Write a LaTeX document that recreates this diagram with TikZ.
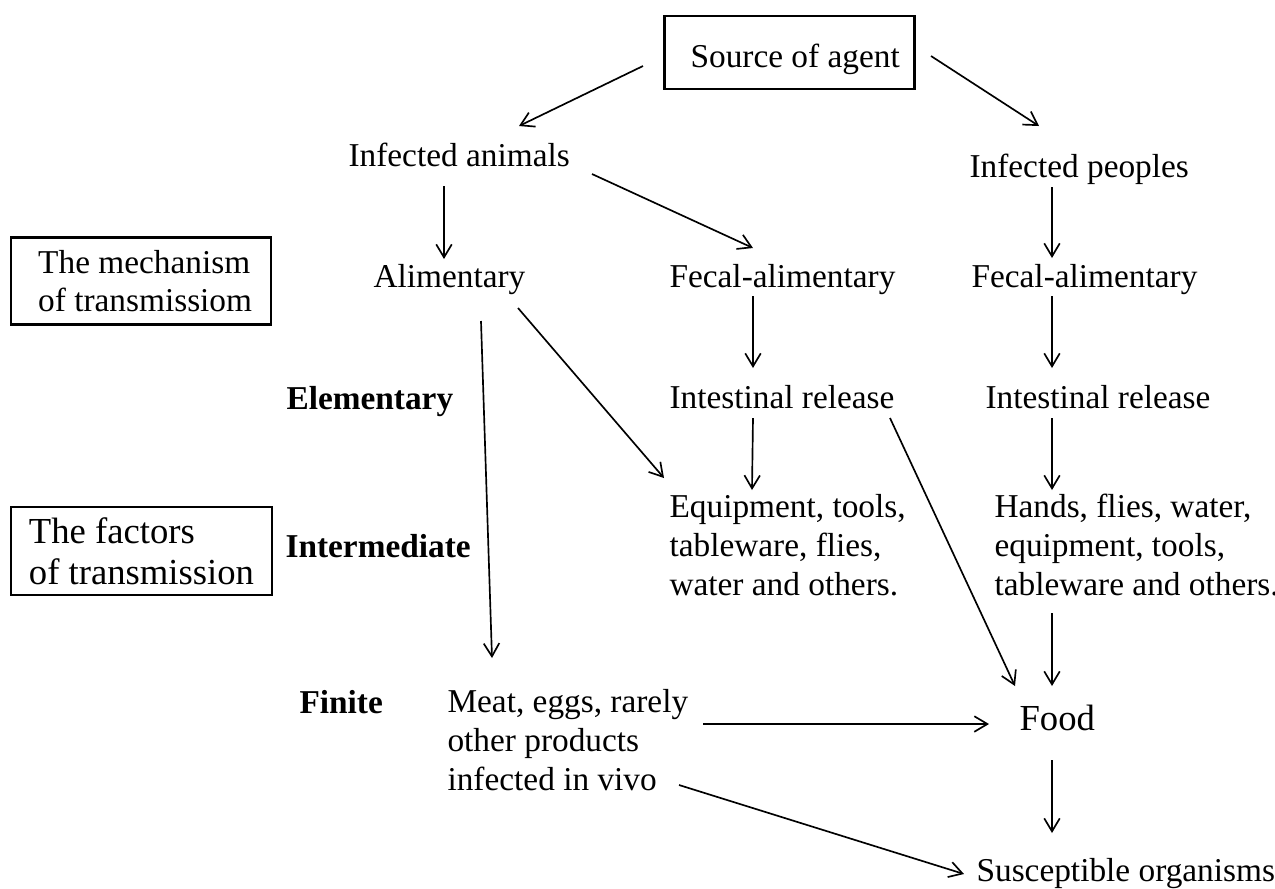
\documentclass[tikz,border=0pt]{standalone}
\usepackage{fontspec}
\setmainfont{Liberation Serif}
\usetikzlibrary{arrows.meta}
\pgfdeclarelayer{edgelayer}
\pgfdeclarelayer{nodelayer}
\pgfsetlayers{edgelayer,nodelayer,main}
\tikzset{font=\fontsize{12}{13.9}\selectfont}
\tikzstyle{txt}=[inner sep=0pt, anchor=base west]
\tikzstyle{multi}=[txt, align=left]
\tikzstyle{stage}=[txt, font=\fontsize{12}{13.9}\selectfont\bfseries]
\tikzstyle{box}=[draw, line width=1pt, align=left]
\tikzstyle{big}=[font=\fontsize{13.2}{14.8}\selectfont]
\tikzstyle{arr}=[-{Straight Barb[length=4.7pt,width=5.6pt]}, line width=0.6pt]

\begin{document}
\begin{tikzpicture}[x=0.36pt, y=-0.36pt]
	\useasboundingbox (0, 0) rectangle (1275, 888);
	\begin{pgfonlayer}{nodelayer}
		\node [style=box, anchor=base east, minimum width=90pt, inner xsep=0pt, inner ysep=0pt, text height=18.4pt, text depth=7.9pt] (0) at (916, 67) {\hspace*{4pt}Source of agent};
		\node [style=txt] (1) at (348, 166) {Infected animals};
		\node [style=txt] (2) at (969, 177) {Infected peoples};
		\node [style=box, inner ysep=0pt, minimum width=93.6pt, minimum height=31.3pt] (3) at (141, 281) {\hspace*{3pt}The mechanism\\\hspace*{3pt}of transmissiom};
		\node [style=txt] (4) at (373, 287) {Alimentary};
		\node [style=txt] (5) at (669, 287) {Fecal-alimentary};
		\node [style=txt] (6) at (971, 287) {Fecal-alimentary};
		\node [style=stage] (7) at (286, 409) {Elementary};
		\node [style=txt] (8) at (669, 408) {Intestinal release};
		\node [style=txt] (9) at (985, 408) {Intestinal release};
		\node [style=box, style=big, inner ysep=0pt, minimum width=94pt, minimum height=31.7pt] (10) at (141.5, 551) {The factors\\of transmission};
		\node [style=stage] (11) at (285, 557) {Intermediate};
		\node [style=multi] (12) at (669, 595) {Equipment, tools,\\tableware, flies,\\water and others.};
		\node [style=multi] (13) at (994, 595) {Hands, flies, water,\\equipment, tools,\\tableware and others.};
		\node [style=stage] (14) at (299, 713) {Finite};
		\node [style=multi] (15) at (447, 790) {Meat, eggs, rarely\\other products\\infected in vivo};
		\node [style=txt, style=big] (16) at (1019, 730) {Food};
		\node [style=txt] (17) at (976, 881) {Susceptible organisms};
	\end{pgfonlayer}
	\begin{pgfonlayer}{edgelayer}
		\draw [style=arr] ([shift={(-273,-1)}]0.base east) to ([shift={(171,-40)}]1.base west);
		\draw [style=arr] ([shift={(15,-11)}]0.base east) to ([shift={(70,-51)}]2.base west);
		\draw [style=arr] ([shift={(96,20)}]1.base west) to ([shift={(71,-28)}]4.base west);
		\draw [style=arr] ([shift={(244,8)}]1.base west) to ([shift={(84,-39)}]5.base west);
		\draw [style=arr] ([shift={(83,10)}]2.base west) to ([shift={(81,-29)}]6.base west);
		\draw [style=arr] ([shift={(84,9)}]5.base west) to ([shift={(84,-40)}]8.base west);
		\draw [style=arr] ([shift={(81,9)}]6.base west) to ([shift={(67,-40)}]9.base west);
		\draw [style=arr] ([shift={(108,34)}]4.base west) to ([shift={(45,-132)}]15.base west);
		\draw [style=arr] ([shift={(145,21)}]4.base west) to ([shift={(-5,-117)}]12.base west);
		\draw [style=arr] ([shift={(84,10)}]8.base west) to ([shift={(83,-105)}]12.base west);
		\draw [style=arr] ([shift={(67,10)}]9.base west) to ([shift={(58,-105)}]13.base west);
		\draw [style=arr] ([shift={(221,10)}]8.base west) to ([shift={(-4,-44)}]16.base west);
		\draw [style=arr] ([shift={(58,18)}]13.base west) to ([shift={(33,-44)}]16.base west);
		\draw [style=arr] ([shift={(256,-66)}]15.base west) to ([shift={(-30,-6)}]16.base west);
		\draw [style=arr] ([shift={(33,30)}]16.base west) to ([shift={(76,-48)}]17.base west);
		\draw [style=arr] ([shift={(232,-5)}]15.base west) to ([shift={(-12,-7)}]17.base west);
	\end{pgfonlayer}
\end{tikzpicture}
\end{document}
